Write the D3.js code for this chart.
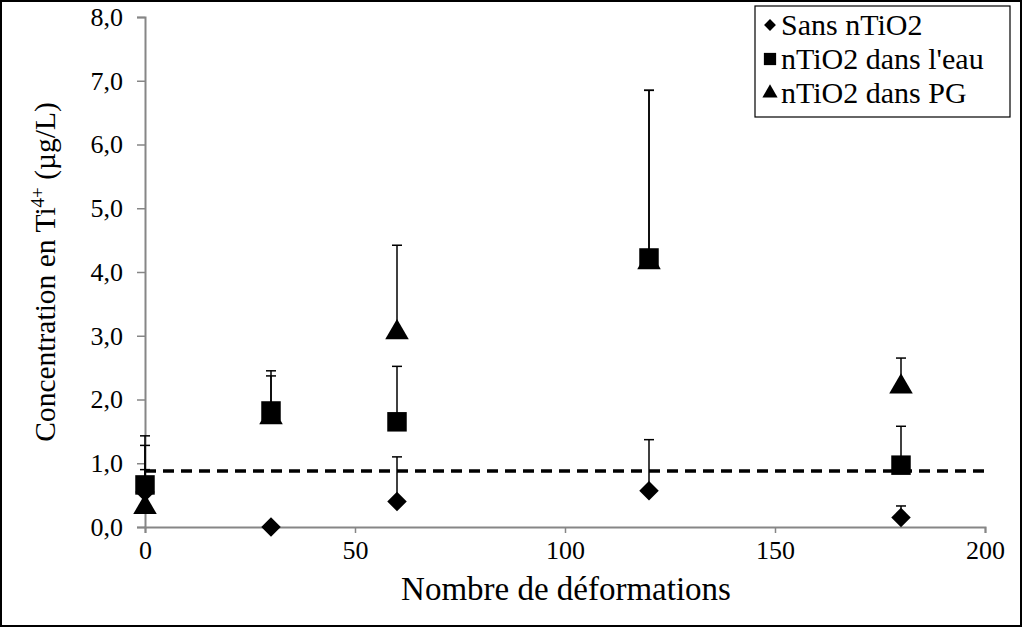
<!DOCTYPE html>
<html><head><meta charset="utf-8">
<script src="https://cdn.jsdelivr.net/npm/d3@7"></script>
<style>body{margin:0;background:#fff}svg{display:block}
svg text{font-family:'Liberation Serif','Times New Roman',serif !important;}</style>
</head><body>
<svg id="c" width="1022" height="627"></svg>
<script>
const xCats = [0, 30, 60, 120, 180];
const sansVals = [0.55, 0.0, 0.40, 0.57, 0.15];
const sansErr = [0.73, 0.0, 0.70, 0.80, 0.18];
const eauVals = [0.66, 1.82, 1.65, 4.22, 0.97];
const eauErr = [0.77, 0.55, 0.87, 2.63, 0.61];
const pgVals = [0.31, 1.72, 3.05, 4.15, 2.20];
const pgErr = [0.59, 0.73, 1.37, 2.70, 0.45];
const yTicks = [0,1,2,3,4,5,6,7,8];
const xTicks = [0,50,100,150,200];
const seriesNames = ["Sans nTiO2", "nTiO2 dans l'eau", "nTiO2 dans PG"];
const limitVal = 0.88;

const svg = d3.select("#c");
svg.append("rect").attr("x",1).attr("y",1).attr("width",1020).attr("height",625)
  .attr("fill","#fff").attr("stroke","#000").attr("stroke-width",2);

const L=145, R=985, T=17, B=527;
const x = d3.scaleLinear().domain([0,200]).range([L,R]);
const y = d3.scaleLinear().domain([0,8]).range([B,T]);

const yAxis = svg.append("g").attr("transform",`translate(${L},0)`)
  .call(d3.axisLeft(y).tickValues(yTicks).tickSize(8).tickFormat(d=>d3.format(".1f")(d).replace(".",",")));
const xAxis = svg.append("g").attr("transform",`translate(0,${B})`)
  .call(d3.axisBottom(x).tickValues(xTicks).tickSize(6));
[yAxis,xAxis].forEach(g=>{
  g.attr("font-family",null);
  g.select(".domain").attr("stroke","#868686").attr("stroke-width",2);
  g.selectAll(".tick line").attr("stroke","#868686").attr("stroke-width",1.5);
  g.selectAll("text").attr("fill","#000").style("font-size","26px");
});
yAxis.selectAll("text").attr("x",-22);
xAxis.selectAll("text").attr("y",14);

// dashed limit line
svg.append("line").attr("x1",x(0)).attr("x2",x(200)).attr("y1",y(limitVal)).attr("y2",y(limitVal))
  .attr("stroke","#000").attr("stroke-width",3.5).attr("stroke-dasharray","11,7");

const series = [
  {vals:sansVals, err:sansErr, sym:d3.symbolSquare, rot:45, size:190},
  {vals:eauVals, err:eauErr, sym:d3.symbolSquare, rot:0, size:380},
  {vals:pgVals, err:pgErr, sym:d3.symbolTriangle, rot:0, size:240}
];
series.forEach(s=>{
  const g = svg.append("g");
  xCats.forEach((c,i)=>{
    if (s.err[i] <= 0) return;
    const top = s.vals[i]+s.err[i];
    g.append("line").attr("x1",x(c)).attr("x2",x(c)).attr("y1",y(s.vals[i])).attr("y2",y(top))
      .attr("stroke","#000").attr("stroke-width",1.5);
    g.append("line").attr("x1",x(c)-5).attr("x2",x(c)+5).attr("y1",y(top)).attr("y2",y(top))
      .attr("stroke","#000").attr("stroke-width",1.5);
  });
});
series.forEach(s=>{
  svg.append("g").selectAll("path").data(xCats).join("path")
    .attr("transform",(c,i)=>`translate(${x(c)},${y(s.vals[i])}) rotate(${s.rot})`)
    .attr("d",d3.symbol().type(s.sym).size(s.size)).attr("fill","#000");
});

// legend
const lg = svg.append("g");
lg.append("rect").attr("x",755).attr("y",6).attr("width",255).attr("height",111)
  .attr("fill","#fff").attr("stroke","#000").attr("stroke-width",1.2);
const legSizes=[70,150,100];
seriesNames.forEach((n,i)=>{
  const cy = 25 + i*34;
  lg.append("path").attr("transform",`translate(770,${cy}) rotate(${series[i].rot})`)
    .attr("d",d3.symbol().type(series[i].sym).size(legSizes[i])).attr("fill","#000");
  lg.append("text").attr("x",781).attr("y",cy+10).text(n)
    .style("font-size","30px").attr("fill","#000");
});

// axis titles
svg.append("text").attr("x",566).attr("y",600).attr("text-anchor","middle")
  .style("font-size","33px").text("Nombre de déformations");
const yt = svg.append("text").attr("transform","translate(55,272) rotate(-90)").attr("text-anchor","middle")
  .style("font-size","29.5px");
yt.append("tspan").text("Concentration en Ti");
yt.append("tspan").attr("dy",-11).style("font-size","19px").text("4+");
yt.append("tspan").attr("dy",11).text(" (µg/L)");
</script>
</body></html>
